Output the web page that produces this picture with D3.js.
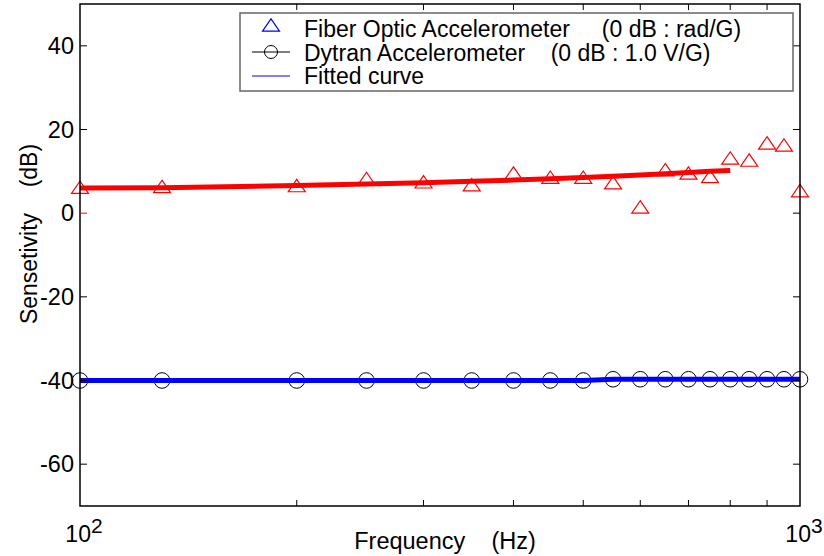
<!DOCTYPE html>
<html><head><meta charset="utf-8">
<script src="https://cdn.jsdelivr.net/npm/d3@7"></script>
<style>
body{margin:0;background:#fff}
text{font-family:"Liberation Sans",Arial,sans-serif;white-space:pre}
</style>
</head><body><svg id="c" width="824" height="556"></svg>
<script>
// ---- data ----
const freqs = [100,130,200,250,300,350,400,450,500,550,600,650,700,750,800,850,900,950,1000];
const fiberDb = [6.2,6.4,6.6,8.3,7.5,6.8,9.6,8.6,8.6,7.3,1.5,10.4,9.6,8.8,13.2,12.7,16.8,16.3,5.4];
const dytranDb = [-40,-40,-40,-40,-40,-40,-40,-40,-40,-39.7,-39.7,-39.7,-39.7,-39.7,-39.7,-39.7,-39.7,-39.7,-39.7];
const fitFiberFreqs = [100,130,200,250,300,350,400,450,500,550,600,650,700,750,800];
const fitFiberDb = [6.0,6.1,6.6,7.0,7.3,7.6,7.9,8.2,8.5,8.8,9.1,9.4,9.7,10.0,10.2];
const fitDytranFreqs = freqs;
const fitDytranDb = dytranDb;
const yTicks = [-60,-40,-20,0,20,40];
const xMinorTicks = [200,300,400,500,600,700,800,900];
const xMajorTicks = [100,1000];
const legendLabels = ["Fiber Optic Accelerometer     (0 dB : rad/G)","Dytran Accelerometer    (0 dB : 1.0 V/G)","Fitted curve"];

// ---- chart ----
const svg = d3.select("#c");
const x = d3.scaleLog().domain([100,1000]).range([80,800]);
const y = d3.scaleLinear().domain([-70,50]).range([506,4]);
const pTop = y(50), pBot = y(-70), pLeft = x(100), pRight = x(1000);

// custom flat triangle symbol
const tri = {draw(ctx, size){ const w=8.5,h=6.2; ctx.moveTo(0,-h); ctx.lineTo(w,h); ctx.lineTo(-w,h); ctx.closePath(); }};

const g = svg.append("g");

// markers
g.selectAll(".tri").data(freqs).enter().append("path")
  .attr("d", d3.symbol().type(tri)())
  .attr("transform",(d,i)=>`translate(${x(d)},${y(fiberDb[i])})`)
  .attr("fill","none").attr("stroke","#ff0000").attr("stroke-width",1.2);
g.selectAll(".circ").data(freqs).enter().append("circle")
  .attr("cx",d=>x(d)).attr("cy",(d,i)=>y(dytranDb[i])).attr("r",7.8)
  .attr("fill","none").attr("stroke","#000").attr("stroke-width",1);

// fitted lines
const line = d3.line().x(d=>x(d[0])).y(d=>y(d[1]));
g.append("path").datum(fitFiberFreqs.map((f,i)=>[f,fitFiberDb[i]]))
  .attr("d",line).attr("fill","none").attr("stroke","#ff0000").attr("stroke-width",5);
g.append("path").datum(fitDytranFreqs.map((f,i)=>[f,fitDytranDb[i]]))
  .attr("d",line).attr("fill","none").attr("stroke","#0000ff").attr("stroke-width",5);

// axes frame
const ax = svg.append("g").attr("stroke","#000");
ax.append("rect").attr("x",pLeft).attr("y",pTop).attr("width",pRight-pLeft).attr("height",pBot-pTop)
  .attr("fill","none").attr("stroke-width",1.5);
xMinorTicks.forEach(t=>{
  ax.append("line").attr("x1",x(t)).attr("x2",x(t)).attr("y1",pBot).attr("y2",pBot-6);
  ax.append("line").attr("x1",x(t)).attr("x2",x(t)).attr("y1",pTop).attr("y2",pTop+6);
});
yTicks.forEach(t=>{
  ax.append("line").attr("x1",pLeft).attr("x2",pLeft+7).attr("y1",y(t)).attr("y2",y(t)).attr("stroke",t===0?"#ff0000":"#000");
  ax.append("line").attr("x1",pRight).attr("x2",pRight-7).attr("y1",y(t)).attr("y2",y(t));
});

// y tick labels
svg.selectAll(".yl").data(yTicks).enter().append("text")
  .attr("x",74).attr("y",d=>y(d)+8).attr("text-anchor","end")
  .attr("font-size",23.5).text(d=>d);

// x tick labels 10^2, 10^3
xMajorTicks.forEach(t=>{
  const tx = svg.append("text").attr("x",x(t)+4).attr("y",542).attr("text-anchor","middle").attr("font-size",23);
  tx.append("tspan").text("10");
  tx.append("tspan").attr("dx",0).attr("dy",-9).attr("font-size",21).text(String(Math.round(Math.log10(t))));
});

// axis titles
svg.append("text").attr("x",445).attr("y",549).attr("text-anchor","middle").attr("font-size",23.5)
  .text("Frequency    (Hz)");
svg.append("text").attr("transform","translate(37,234) rotate(-90)").attr("text-anchor","middle").attr("font-size",23)
  .text("Sensetivity    (dB)");

// legend
const lg = svg.append("g");
lg.append("rect").attr("x",240).attr("y",13).attr("width",553).attr("height",78)
  .attr("fill","#fff").attr("stroke","#666").attr("stroke-width",1.5);
const rowY = [37,61,84];
lg.append("path").attr("d",d3.symbol().type(tri)()).attr("transform",`translate(271,${rowY[0]-12})`)
  .attr("fill","none").attr("stroke","#0000ff").attr("stroke-width",1.2);
lg.append("line").attr("x1",252).attr("x2",290).attr("y1",rowY[1]-9).attr("y2",rowY[1]-9).attr("stroke","#000");
lg.append("circle").attr("cx",271).attr("cy",rowY[1]-9).attr("r",6.5).attr("fill","none").attr("stroke","#000");
lg.append("line").attr("x1",252).attr("x2",290).attr("y1",rowY[2]-8).attr("y2",rowY[2]-8).attr("stroke","#0000ff");
lg.selectAll(".lt").data(legendLabels).enter().append("text")
  .attr("x",304).attr("y",(d,i)=>rowY[i]).attr("font-size",23).text(d=>d);
</script>
</body></html>
